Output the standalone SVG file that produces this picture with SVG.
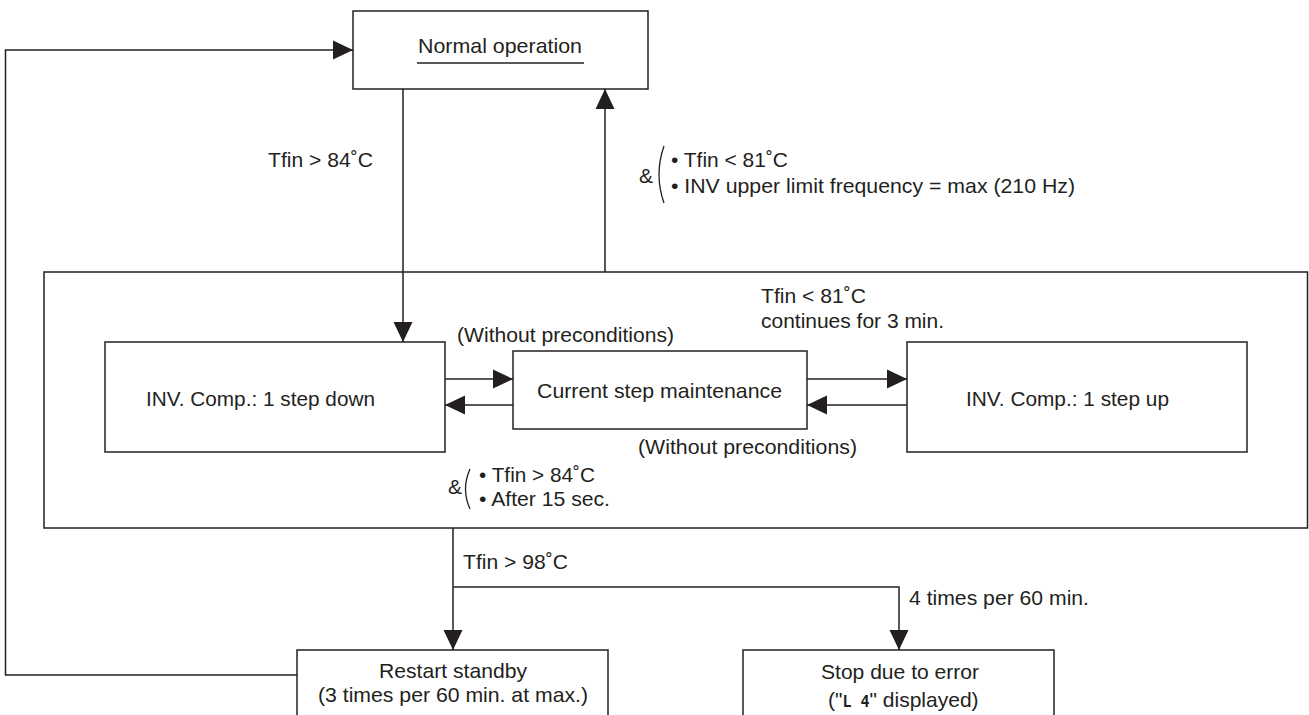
<svg xmlns="http://www.w3.org/2000/svg" width="1309" height="715" viewBox="0 0 1309 715">
<defs>
<style>
.box{fill:#fff;stroke:#231f20;stroke-width:1.5}
.ln{fill:none;stroke:#231f20;stroke-width:1.5}
.t{font-family:"Liberation Sans",Arial,Helvetica,sans-serif;font-size:21px;fill:#231f20}
.c{text-anchor:middle}
</style>
<marker id="ah" markerUnits="userSpaceOnUse" markerWidth="20" markerHeight="20" refX="20" refY="9.5" orient="auto" viewBox="0 0 20 19">
<path d="M0,0 L20,9.5 L0,19 Z" fill="#231f20"/>
</marker>
</defs>
<rect width="1309" height="715" fill="#fff"/>

<g id="outer">
<rect class="box" x="44" y="272" width="1263.5" height="256"/>
</g>

<g id="connectors">
<polyline class="ln" points="297,675 5.5,675 5.5,50 353,50" marker-end="url(#ah)"/>
<line class="ln" x1="403" y1="89" x2="403" y2="342" marker-end="url(#ah)"/>
<line class="ln" x1="605" y1="272" x2="605" y2="89" marker-end="url(#ah)"/>
<line class="ln" x1="445" y1="379" x2="513" y2="379" marker-end="url(#ah)"/>
<line class="ln" x1="513" y1="405" x2="445" y2="405" marker-end="url(#ah)"/>
<line class="ln" x1="807" y1="379" x2="907" y2="379" marker-end="url(#ah)"/>
<line class="ln" x1="907" y1="405" x2="807" y2="405" marker-end="url(#ah)"/>
<line class="ln" x1="453" y1="528" x2="453" y2="650" marker-end="url(#ah)"/>
<polyline class="ln" points="453,587 899,587 899,650" marker-end="url(#ah)"/>
</g>

<g id="normal">
<rect class="box" x="353" y="11" width="295" height="78"/>
<text class="t" x="418" y="53" textLength="164" lengthAdjust="spacingAndGlyphs">Normal operation</text>
<line class="ln" x1="417" y1="63" x2="584" y2="63" style="stroke-width:1.3"/>
</g>

<g id="step-down">
<rect class="box" x="105" y="342" width="340" height="110"/>
<text class="t" x="146" y="406" textLength="229" lengthAdjust="spacingAndGlyphs">INV. Comp.: 1 step down</text>
</g>

<g id="maintenance">
<rect class="box" x="513" y="351" width="294" height="78"/>
<text class="t" x="537" y="398" textLength="245" lengthAdjust="spacingAndGlyphs">Current step maintenance</text>
</g>

<g id="step-up">
<rect class="box" x="907" y="342" width="340" height="110"/>
<text class="t" x="966" y="406" textLength="203" lengthAdjust="spacingAndGlyphs">INV. Comp.: 1 step up</text>
</g>

<g id="restart">
<rect class="box" x="297" y="650" width="311" height="90"/>
<text class="t c" x="453" y="678" textLength="148" lengthAdjust="spacingAndGlyphs">Restart standby</text>
<text class="t c" x="453" y="702" textLength="270" lengthAdjust="spacingAndGlyphs">(3 times per 60 min. at max.)</text>
</g>

<g id="stop">
<rect class="box" x="743" y="650" width="311" height="90"/>
<text class="t c" x="900" y="679" textLength="158" lengthAdjust="spacingAndGlyphs">Stop due to error</text>
<text class="t" x="828" y="707">("<tspan style="font-size:15px;font-weight:bold;font-family:'DejaVu Sans Mono',monospace">L 4</tspan>" displayed)</text>
</g>

<g id="labels">
<text class="t" x="268" y="167" textLength="105" lengthAdjust="spacingAndGlyphs">Tfin &gt; 84˚C</text>
<text class="t" x="639" y="183">&amp;</text>
<path class="ln" d="M664,146 Q654,174.5 664,203" style="stroke-width:1.3"/>
<text class="t" x="671" y="167" textLength="117" lengthAdjust="spacingAndGlyphs">• Tfin &lt; 81˚C</text>
<text class="t" x="671" y="193" textLength="404" lengthAdjust="spacingAndGlyphs">• INV upper limit frequency = max (210 Hz)</text>
<text class="t" x="761" y="303" textLength="105" lengthAdjust="spacingAndGlyphs">Tfin &lt; 81˚C</text>
<text class="t" x="761" y="328" textLength="183" lengthAdjust="spacingAndGlyphs">continues for 3 min.</text>
<text class="t" x="457" y="342" textLength="217" lengthAdjust="spacingAndGlyphs">(Without preconditions)</text>
<text class="t" x="638" y="454" textLength="219" lengthAdjust="spacingAndGlyphs">(Without preconditions)</text>
<text class="t" x="448" y="494">&amp;</text>
<path class="ln" d="M470,469 Q461,489 470,509" style="stroke-width:1.3"/>
<text class="t" x="479" y="482" textLength="116" lengthAdjust="spacingAndGlyphs">• Tfin &gt; 84˚C</text>
<text class="t" x="479" y="506" textLength="131" lengthAdjust="spacingAndGlyphs">• After 15 sec.</text>
<text class="t" x="463" y="569" textLength="105" lengthAdjust="spacingAndGlyphs">Tfin &gt; 98˚C</text>
<text class="t" x="909" y="605" textLength="180" lengthAdjust="spacingAndGlyphs">4 times per 60 min.</text>
</g>
</svg>
